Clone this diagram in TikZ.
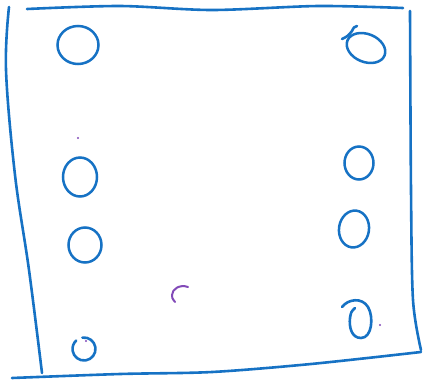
\documentclass[tikz,border=0pt]{standalone}
\usetikzlibrary{shapes.geometric}
\definecolor{inkblue}{RGB}{22,114,196}
\definecolor{inkpurple}{RGB}{130,74,184}
\tikzset{
  ink/.style    = {draw=inkblue, line width=2.6bp, line cap=round, line join=round},
  ring/.style   = {ellipse, draw=inkblue, line width=2.5bp, inner sep=0pt},
  pen/.style    = {draw=inkpurple, line width=2bp, line cap=round},
  speck/.style  = {circle, fill=inkpurple, inner sep=0pt, minimum size=2.2bp},
}

\begin{document}
\begin{tikzpicture}[x=1bp, y=-1bp]
  \useasboundingbox (0,0) rectangle (423,380);
  % frame
  \draw[ink] plot[smooth, tension=0.6] coordinates {(9,7) (6,70) (15,175) (29,270) (42,373)};
  \draw[ink] plot[smooth] coordinates {(27,9) (120,6) (212,10) (318,6) (403,8)};
  \draw[ink] plot[smooth] coordinates {(410,11) (411,190) (413,300) (421,350)};
  \draw[ink] plot[smooth] coordinates {(12,378) (120,374) (212,372) (311,364) (421,352)};
  % left column
  \node[ring, minimum width=41bp, minimum height=38bp] (l1) at (78,45) {};
  \node[ring, minimum width=34bp, minimum height=39bp] (l2) at (80,177) {};
  \node[ring, minimum width=33bp, minimum height=35bp] (l3) at (85,245) {};
  \coordinate (l4) at (84,349);
  \draw[ink] (l4) ++(262:11.5) arc[start angle=262, end angle=587, radius=11.5];
  % right column
  \node[ring, minimum width=40bp, minimum height=28bp, rotate=-22] (r1) at (366,48) {};
  \draw[ink] (342,39) .. controls (348,36) .. (352,31) .. controls (354,27) .. (357,26);
  \node[ring, minimum width=29bp, minimum height=33bp] (r2) at (359,163) {};
  \node[ring, minimum width=30bp, minimum height=37bp, rotate=-8] (r3) at (354,229) {};
  \draw[ink] (342,307) .. controls (348,299) and (362,297) .. (368,307)
             .. controls (374,317) and (372,338) .. (361,338)
             .. controls (351,338) and (349,326) .. (350,318)
             .. controls (351,312) .. (355,308);
  % purple marks
  \draw[pen] (188,287) .. controls (180,284) and (172,289) .. (172,295)
             .. controls (172,298) .. (175,302);
  \node[speck] (p1) at (78,138) {};
  \node[speck] (p2) at (86,341) {};
  \node[speck] (p3) at (380,325) {};
\end{tikzpicture}
\end{document}
